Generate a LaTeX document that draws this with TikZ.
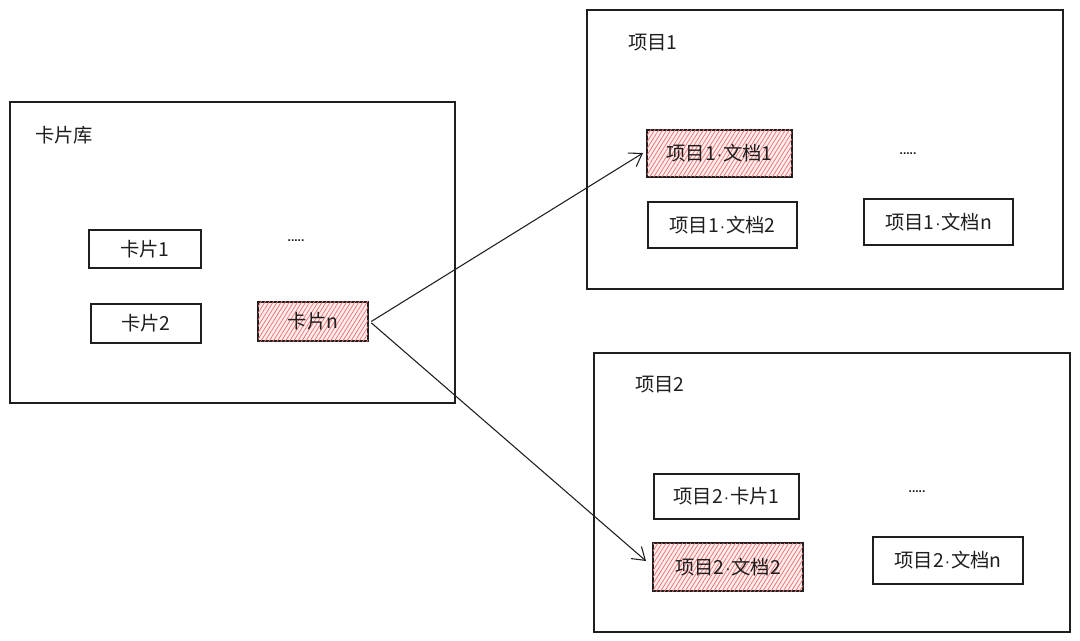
\documentclass[tikz,border=0pt]{standalone}
\usepackage{fontspec}
\newfontfamily\cjk{Noto Sans CJK SC}
\newfontfamily\lat{Liberation Sans}
\newcommand{\md}{{\lat\fontsize{13}{15}\selectfont\kern0.5pt·\kern0.5pt}}
\usetikzlibrary{fit,patterns.meta,arrows.meta}
\definecolor{ink}{HTML}{1E1E1E}
\definecolor{hatch}{HTML}{EE7070}
\tikzset{
  box/.style={draw=ink, line width=0.9pt, inner sep=0pt, rectangle},
  outerbox/.style={draw=ink, line width=0.8pt, inner sep=0pt, rectangle},
  hot/.style={box, fill=red!7, postaction={pattern={Lines[angle=58,distance=2.6pt,line width=0.55pt]}, pattern color=hatch}},
  txt/.style={font=\cjk\fontsize{14.5}{16}\selectfont, text=ink, inner sep=0pt},
  dots/.style={font=\lat\fontsize{9}{10}\selectfont\bfseries, text=ink, inner sep=0pt},
  conn/.style={draw=ink, line width=0.8pt, -{Straight Barb[length=9pt,width=12pt,line width=0.8pt]}}
}
\begin{document}
\begin{tikzpicture}[x=0.75pt,y=-0.75pt]
\useasboundingbox (0,0) rectangle (1080,641);
% library
\node[outerbox, fit={(10,102)(455,403)}] (lib) {};
\node[txt, anchor=west] (libl) at (35,135) {卡片库};
\node[box, fit={(89,230)(201,268)}, label={[txt]center:卡片1}] (c1) {};
\node[box, fit={(91,304)(201,343)}, label={[txt]center:卡片2}] (c2) {};
\node[hot, fit={(258,302)(368,341)}, label={[txt]center:卡片n}] (cn) {};
\node[dots] (libd) at (296,241) {.....};
% project 1
\node[outerbox, fit={(587,10)(1063,289)}] (p1) {};
\node[txt, anchor=west] (p1l) at (628,43) {项目1};
\node[hot, fit={(647,130)(792,177)}, label={[txt]center:项目1\md 文档1}] (d11) {};
\node[box, fit={(648,202)(797,248)}, label={[txt]center:项目1\md 文档2}] (d12) {};
\node[box, fit={(864,199)(1013,245)}, label={[txt]center:项目1\md 文档n}] (d1n) {};
\node[dots] (p1d) at (908,154) {.....};
% project 2
\node[outerbox, fit={(594,353)(1070,632)}] (p2) {};
\node[txt, anchor=west] (p2l) at (635,385) {项目2};
\node[box, fit={(654,474)(799,519)}, label={[txt]center:项目2\md 卡片1}] (c21) {};
\node[hot, fit={(653,543)(803,591)}, label={[txt]center:项目2\md 文档2}] (d22) {};
\node[box, fit={(873,537)(1023,584)}, label={[txt]center:项目2\md 文档n}] (d2n) {};
\node[dots] (p2d) at (917,492) {.....};
% connectors
\coordinate (t1) at (643,153);
\coordinate (t2) at (646,561);
\draw[conn] ([xshift=2pt]cn.east) -- (t1);
\draw[conn] ([xshift=2pt,yshift=-1pt]cn.east) -- (t2);
\end{tikzpicture}
\end{document}
